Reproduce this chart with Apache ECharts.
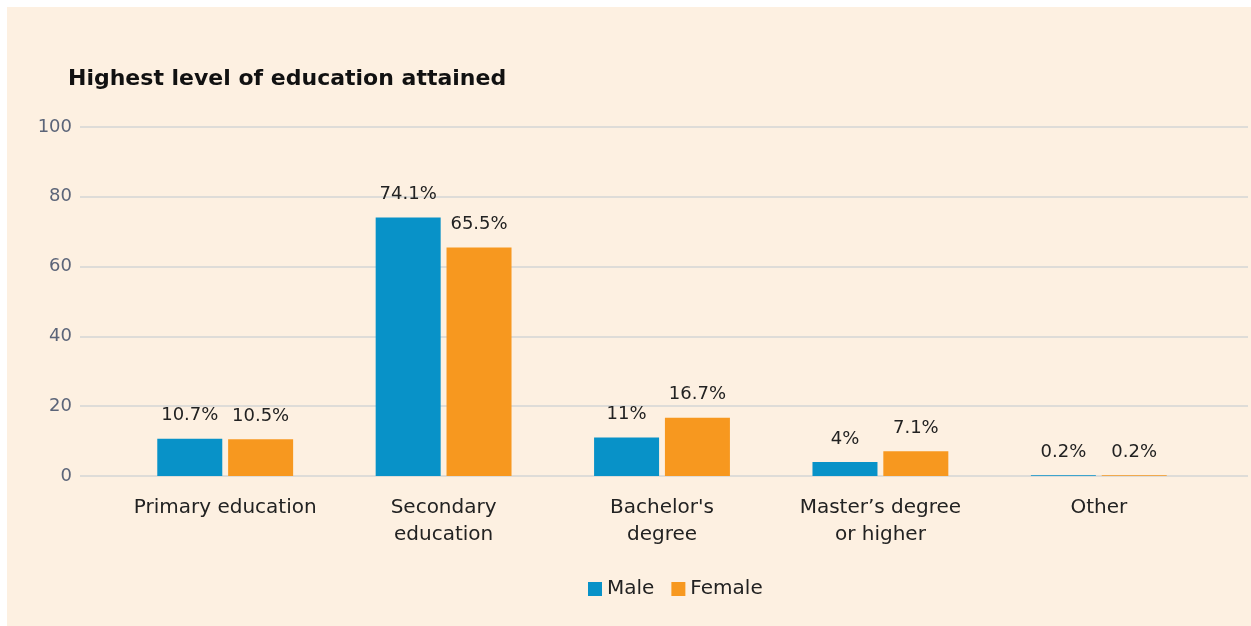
<!DOCTYPE html>
<html>
<head>
<meta charset="utf-8">
<script src="https://cdn.jsdelivr.net/npm/echarts@6/dist/echarts.min.js"></script>
<style>
  html, body { margin: 0; padding: 0; background: #ffffff; }
  #main { position: absolute; left: 7px; top: 7px; width: 1244px; height: 619px; }
</style>
</head>
<body>
<div id="main"></div>
<script>
var categories = ['Primary education', 'Secondary\neducation', "Bachelor's\ndegree", 'Master\u2019s degree\nor higher', 'Other'];
var maleValues = [10.7, 74.1, 11, 4, 0.2];
var femaleValues = [10.5, 65.5, 16.7, 7.1, 0.2];
var yTicks = [0, 20, 40, 60, 80, 100];

var font = '"DejaVu Sans", sans-serif';
var chart = echarts.init(document.getElementById('main'));

var labelStyle = {
  show: true,
  position: 'top',
  distance: 14,
  fontFamily: font,
  fontSize: 18,
  color: '#222222',
  formatter: '{c}%'
};

var option = {
  backgroundColor: '#FDF0E1',
  animation: false,
  title: {
    text: 'Highest level of education attained',
    left: 56,
    top: 56,
    textStyle: {
      fontFamily: font,
      fontSize: 22,
      fontWeight: 'bold',
      color: '#111111'
    }
  },
  legend: {
    left: 576,
    top: 567,
    itemWidth: 14,
    itemHeight: 14,
    itemGap: 17,
    itemTextGap: 5,
    icon: 'rect',
    textStyle: { fontFamily: font, fontSize: 20, color: '#222222' },
    data: ['Male', 'Female']
  },
  grid: [
    { left: 73, right: 3, top: 120, bottom: 150 },   // gridlines + y labels
    { left: 109, right: 43, top: 120, bottom: 150 }  // bars
  ],
  xAxis: [
    { gridIndex: 0, type: 'category', data: categories, show: false },
    {
      gridIndex: 1,
      type: 'category',
      data: categories,
      axisLine: { show: false },
      axisTick: { show: false },
      axisLabel: {
        interval: 0,
        margin: 18,
        fontFamily: font,
        fontSize: 20,
        lineHeight: 27,
        color: '#222222'
      }
    }
  ],
  yAxis: [
    {
      gridIndex: 0,
      type: 'value',
      min: yTicks[0],
      max: yTicks[yTicks.length - 1],
      interval: 20,
      axisLine: { show: false },
      axisTick: { show: false },
      axisLabel: { margin: 8, fontFamily: font, fontSize: 18, color: '#5b6478' },
      splitLine: { lineStyle: { color: '#dedcd8', width: 2 } }
    },
    {
      gridIndex: 1,
      type: 'value',
      min: yTicks[0],
      max: yTicks[yTicks.length - 1],
      interval: 20,
      show: false,
      splitLine: { show: false }
    }
  ],
  series: [
    {
      name: 'Male',
      type: 'bar',
      xAxisIndex: 1,
      yAxisIndex: 1,
      data: maleValues,
      barWidth: 65,
      barGap: '9%',
      itemStyle: { color: '#0892C8' },
      label: labelStyle
    },
    {
      name: 'Female',
      type: 'bar',
      xAxisIndex: 1,
      yAxisIndex: 1,
      data: femaleValues,
      barWidth: 65,
      barGap: '9%',
      itemStyle: { color: '#F7981F' },
      label: labelStyle
    }
  ]
};

chart.setOption(option);
</script>
</body>
</html>
